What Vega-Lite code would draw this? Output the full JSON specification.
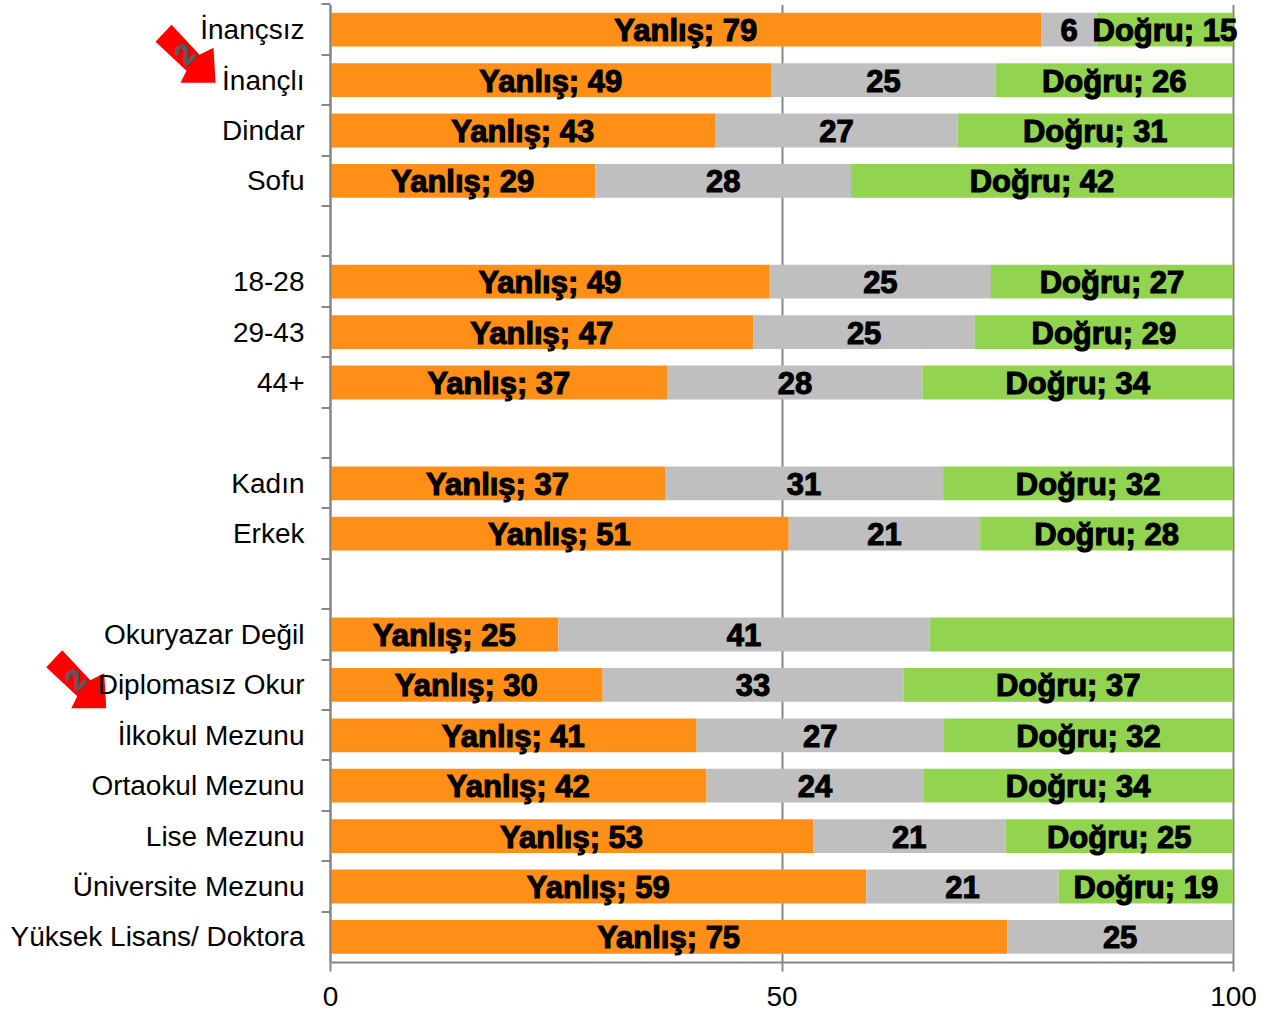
{
"$schema":"https://vega.github.io/schema/vega-lite/v6.json",
"width":903,"height":957.6,
"padding":{"left":330,"top":4.5,"right":39,"bottom":50},
"autosize":{"type":"none"},
"background":"white",
"config":{"view":{"stroke":null}},
"datasets":{"bars":[
{"c":"İnançsız","a":"Yanlış","o":1,"v":78.8,"l":"Yanlış; 79"},{"c":"İnançsız","a":"Kararsız","o":2,"v":6.1,"l":"6"},{"c":"İnançsız","a":"Doğru","o":3,"v":15.1,"l":"Doğru; 15"},
{"c":"İnançlı","a":"Yanlış","o":1,"v":48.9,"l":"Yanlış; 49"},{"c":"İnançlı","a":"Kararsız","o":2,"v":24.8,"l":"25"},{"c":"İnançlı","a":"Doğru","o":3,"v":26.3,"l":"Doğru; 26"},
{"c":"Dindar","a":"Yanlış","o":1,"v":42.7,"l":"Yanlış; 43"},{"c":"Dindar","a":"Kararsız","o":2,"v":26.8,"l":"27"},{"c":"Dindar","a":"Doğru","o":3,"v":30.5,"l":"Doğru; 31"},
{"c":"Sofu","a":"Yanlış","o":1,"v":29.4,"l":"Yanlış; 29"},{"c":"Sofu","a":"Kararsız","o":2,"v":28.3,"l":"28"},{"c":"Sofu","a":"Doğru","o":3,"v":42.3,"l":"Doğru; 42"},
{"c":"18-28","a":"Yanlış","o":1,"v":48.7,"l":"Yanlış; 49"},{"c":"18-28","a":"Kararsız","o":2,"v":24.5,"l":"25"},{"c":"18-28","a":"Doğru","o":3,"v":26.8,"l":"Doğru; 27"},
{"c":"29-43","a":"Yanlış","o":1,"v":46.9,"l":"Yanlış; 47"},{"c":"29-43","a":"Kararsız","o":2,"v":24.5,"l":"25"},{"c":"29-43","a":"Doğru","o":3,"v":28.6,"l":"Doğru; 29"},
{"c":"44+","a":"Yanlış","o":1,"v":37.4,"l":"Yanlış; 37"},{"c":"44+","a":"Kararsız","o":2,"v":28.2,"l":"28"},{"c":"44+","a":"Doğru","o":3,"v":34.4,"l":"Doğru; 34"},
{"c":"Kadın","a":"Yanlış","o":1,"v":37.1,"l":"Yanlış; 37"},{"c":"Kadın","a":"Kararsız","o":2,"v":30.8,"l":"31"},{"c":"Kadın","a":"Doğru","o":3,"v":32.1,"l":"Doğru; 32"},
{"c":"Erkek","a":"Yanlış","o":1,"v":50.8,"l":"Yanlış; 51"},{"c":"Erkek","a":"Kararsız","o":2,"v":21.2,"l":"21"},{"c":"Erkek","a":"Doğru","o":3,"v":28,"l":"Doğru; 28"},
{"c":"Okuryazar Değil","a":"Yanlış","o":1,"v":25.3,"l":"Yanlış; 25"},{"c":"Okuryazar Değil","a":"Kararsız","o":2,"v":41.1,"l":"41"},{"c":"Okuryazar Değil","a":"Doğru","o":3,"v":33.6,"l":""},
{"c":"Diplomasız Okur","a":"Yanlış","o":1,"v":30.2,"l":"Yanlış; 30"},{"c":"Diplomasız Okur","a":"Kararsız","o":2,"v":33.3,"l":"33"},{"c":"Diplomasız Okur","a":"Doğru","o":3,"v":36.5,"l":"Doğru; 37"},
{"c":"İlkokul Mezunu","a":"Yanlış","o":1,"v":40.6,"l":"Yanlış; 41"},{"c":"İlkokul Mezunu","a":"Kararsız","o":2,"v":27.4,"l":"27"},{"c":"İlkokul Mezunu","a":"Doğru","o":3,"v":32,"l":"Doğru; 32"},
{"c":"Ortaokul Mezunu","a":"Yanlış","o":1,"v":41.7,"l":"Yanlış; 42"},{"c":"Ortaokul Mezunu","a":"Kararsız","o":2,"v":24,"l":"24"},{"c":"Ortaokul Mezunu","a":"Doğru","o":3,"v":34.3,"l":"Doğru; 34"},
{"c":"Lise Mezunu","a":"Yanlış","o":1,"v":53.5,"l":"Yanlış; 53"},{"c":"Lise Mezunu","a":"Kararsız","o":2,"v":21.3,"l":"21"},{"c":"Lise Mezunu","a":"Doğru","o":3,"v":25.2,"l":"Doğru; 25"},
{"c":"Üniversite Mezunu","a":"Yanlış","o":1,"v":59.4,"l":"Yanlış; 59"},{"c":"Üniversite Mezunu","a":"Kararsız","o":2,"v":21.3,"l":"21"},{"c":"Üniversite Mezunu","a":"Doğru","o":3,"v":19.3,"l":"Doğru; 19"},
{"c":"Yüksek Lisans/ Doktora","a":"Yanlış","o":1,"v":75,"l":"Yanlış; 75"},{"c":"Yüksek Lisans/ Doktora","a":"Kararsız","o":2,"v":25,"l":"25"}
],"arrow1":[{"c":"İnançlı","x":-16,"t":"2"}],"arrow2":[{"c":"Diplomasız Okur","x":-28.1,"t":"2"}]},
"data":{"name":"bars"},
"encoding":{"y":{"field":"c","type":"nominal","title":null,
"scale":{"domain":["İnançsız","İnançlı","Dindar","Sofu"," ","18-28","29-43","44+","  ","Kadın","Erkek","   ","Okuryazar Değil","Diplomasız Okur","İlkokul Mezunu","Ortaokul Mezunu","Lise Mezunu","Üniversite Mezunu","Yüksek Lisans/ Doktora"],"paddingInner":0.33,"paddingOuter":0.165}}},
"layer":[
{"mark":{"type":"bar","clip":false},
"encoding":{
"x":{"field":"v","type":"quantitative","stack":"zero","title":null,
"scale":{"domain":[0,100],"nice":false},
"axis":{"values":[0,50,100],"grid":true,"gridColor":"#868686","gridWidth":2,"domainColor":"#868686","domainWidth":2,"tickColor":"#868686","tickWidth":2,"tickSize":9,"labelFont":"Liberation Sans","labelFontSize":28,"labelColor":"#000000","labelPadding":12,"labelFlush":false}},
"y":{"field":"c","type":"nominal","axis":{"bandPosition":-0.25,"domainColor":"#868686","domainWidth":2,"tickColor":"#868686","tickWidth":2,"tickSize":9,"labelFont":"Liberation Sans","labelFontSize":28,"labelColor":"#000000","labelPadding":17,"labelBaseline":"middle","labelOffset":1.5,"zindex":1,"labelLimit":400}},
"color":{"field":"a","type":"nominal","legend":null,"scale":{"domain":["Yanlış","Kararsız","Doğru"],"range":["#FF8F17","#BFBFBF","#92D350"]}},
"order":{"field":"o","type":"quantitative"}}},
{"mark":{"type":"text","font":"Liberation Sans","fontWeight":"bold","fontSize":31,"color":"#000000","stroke":"#000000","strokeWidth":1.1,"baseline":"middle","dy":2.5},
"encoding":{
"x":{"field":"v","type":"quantitative","stack":"zero","bandPosition":0.5},
"text":{"field":"l"},
"detail":{"field":"a"},
"order":{"field":"o","type":"quantitative"}}},
{"data":{"name":"arrow1"},"mark":{"type":"point","filled":true,"clip":false,"color":"#FF0000","opacity":1,"size":3600,"shape":"M-.467 -1 L.467 0 L.933 -.233 L1 .933 L-.167 .933 L.033 .533 L-1 -.433 Z"},
"encoding":{"x":{"field":"x","type":"quantitative"},"y":{"field":"c","type":"nominal","bandPosition":-0.25}}},
{"data":{"name":"arrow2"},"mark":{"type":"point","filled":true,"clip":false,"color":"#FF0000","opacity":1,"size":3600,"shape":"M-.467 -1 L.467 0 L.933 -.233 L1 .933 L-.167 .933 L.033 .533 L-1 -.433 Z"},
"encoding":{"x":{"field":"x","type":"quantitative"},"y":{"field":"c","type":"nominal","bandPosition":0.36}}},
{"data":{"name":"arrow1"},"mark":{"type":"text","font":"Liberation Sans","fontWeight":"bold","fontSize":29,"color":"#595959","stroke":"#595959","strokeWidth":0.8,"angle":315,"baseline":"middle","align":"center"},
"encoding":{"x":{"field":"x","type":"quantitative"},"y":{"field":"c","type":"nominal","bandPosition":-0.25},"text":{"field":"t"}}},
{"data":{"name":"arrow2"},"mark":{"type":"text","font":"Liberation Sans","fontWeight":"bold","fontSize":29,"color":"#595959","stroke":"#595959","strokeWidth":0.8,"angle":315,"baseline":"middle","align":"center"},
"encoding":{"x":{"field":"x","type":"quantitative"},"y":{"field":"c","type":"nominal","bandPosition":0.36},"text":{"field":"t"}}}
]}
